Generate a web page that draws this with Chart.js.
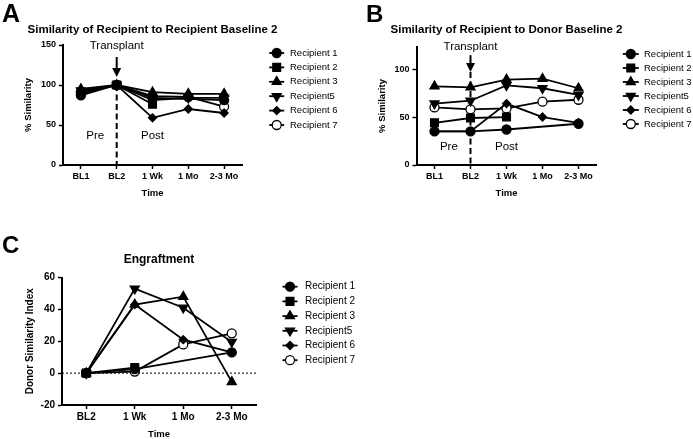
<!DOCTYPE html>
<html><head><meta charset="utf-8">
<script src="https://cdn.jsdelivr.net/npm/chart.js@4.4.0/dist/chart.umd.min.js"></script>
<style>
html,body{margin:0;padding:0;background:#fff;width:693px;height:439px;overflow:hidden}
canvas{position:absolute}
</style></head><body>
<canvas id="cA" width="346" height="205" style="left:0;top:0"></canvas>
<canvas id="cB" width="347" height="205" style="left:346px;top:0"></canvas>
<canvas id="cC" width="420" height="234" style="left:0;top:205px"></canvas>
<script>
// ---------- data ----------
const timeLabelsAB = ['BL1', 'BL2', '1 Wk', '1 Mo', '2-3 Mo'];
const timeLabelsC = ['BL2', '1 Wk', '1 Mo', '2-3 Mo'];
const seriesNames = ['Recipient 1', 'Recipient 2', 'Recipient 3', 'Recipient5', 'Recipient 6', 'Recipient 7'];

// Panel A: Similarity of Recipient to Recipient Baseline 2 (%)
const aRecipient1 = [87, 100, 84, null, 81];
const aRecipient2 = [91, 100, 76, null, null];
const aRecipient3 = [95, 100, 91, 89, 89];
const aRecipient5 = [93, 100, 81, 84, 84];
const aRecipient6 = [92, 100, 59, 70, 65];
const aRecipient7 = [89, 100, 86, 85, 73];

// Panel B: Similarity of Recipient to Donor Baseline 2 (%)
const bRecipient1 = [35, 35, 37, null, 43];
const bRecipient2 = [44, 49, 50, null, null];
const bRecipient3 = [82, 81, 89, 90, 80];
const bRecipient5 = [64, 67, 83, 80, 73];
const bRecipient6 = [35, 35, 64, 50, 44];
const bRecipient7 = [60, 58, 59, 66, 68];

// Panel C: Engraftment (Donor Similarity Index)
const cRecipient1 = [0, 2.5, null, 13];
const cRecipient2 = [0, 3.5, null, null];
const cRecipient3 = [0, 43, 48, -5.5];
const cRecipient5 = [0, 53, 41, 19.5];
const cRecipient6 = [0, 43, 21, 13];
const cRecipient7 = [0, 1, 18, 25];

const yTicksA = [0, 50, 100, 150];
const yTicksB = [0, 50, 100];
const yTicksC = [-20, 0, 20, 40, 60];

// ---------- styles ----------
const F = "'Liberation Sans', Arial, Helvetica, sans-serif";
const markerStyles = [
  {pointStyle: 'circle', radius: 4.5, rotation: 0, fill: '#000'},
  {pointStyle: 'rect', radius: 5.5, rotation: 0, fill: '#000'},
  {pointStyle: 'triangle', radius: 5.2, rotation: 0, fill: '#000'},
  {pointStyle: 'triangle', radius: 5.2, rotation: 180, fill: '#000'},
  {pointStyle: 'rectRot', radius: 4, rotation: 0, fill: '#000'},
  {pointStyle: 'circle', radius: 4.5, rotation: 0, fill: '#fff'}
];

function makeDatasets(arrays) {
  return arrays.map((d, i) => {
    const m = markerStyles[i];
    return {
      label: seriesNames[i], data: d,
      borderColor: '#000', borderWidth: 1.8, tension: 0, spanGaps: true, clip: false,
      pointStyle: m.pointStyle, pointRotation: m.rotation, pointRadius: m.radius,
      pointHoverRadius: m.radius, pointBackgroundColor: m.fill, pointBorderColor: '#000',
      pointBorderWidth: 1.3
    };
  });
}

function xScale(tickSize, titlePad, titleLH, height) {
  return {
    type: 'category', offset: true,
    grid: {display: true, drawOnChartArea: false, offset: false, tickLength: 4, tickWidth: 1.5, tickColor: '#000'},
    border: {display: true, color: '#000', width: 2},
    ticks: {color: '#000', font: {family: F, size: tickSize, weight: 'bold'}, padding: 2, maxRotation: 0, autoSkip: false},
    title: {display: true, text: 'Time', color: '#000', font: {family: F, size: 9.5, weight: 'bold', lineHeight: titleLH}, padding: {top: 0, bottom: titlePad}},
    afterFit(s) { s.height = height; }
  };
}
function yScale(min, max, allowed, title, titleSize, titlePad, tickSize, width) {
  return {
    type: 'linear', min: min, max: max,
    grid: {display: true, drawOnChartArea: false, tickLength: 4, tickWidth: 1.5, tickColor: '#000'},
    border: {display: true, color: '#000', width: 2},
    ticks: {color: '#000', font: {family: F, size: tickSize, weight: 'bold'}, padding: 3, stepSize: allowed[1] - allowed[0]},
    afterBuildTicks(s) { s.ticks = allowed.map(v => ({value: v})); },
    title: {display: true, text: title, color: '#000', font: {family: F, size: titleSize, weight: 'bold', lineHeight: 1.2}, padding: {top: titlePad, bottom: 0}},
    afterFit(s) { s.width = width; }
  };
}

const panelPlugin = {
  id: 'panel',
  beforeDatasetsDraw(chart, args, o) {
    const ctx = chart.ctx, ca = chart.chartArea, xs = chart.scales.x, ys = chart.scales.y;
    ctx.save();
    ctx.strokeStyle = '#000';
    if (o.marker) {
      const x = xs.getPixelForValue(o.marker.index);
      ctx.lineWidth = 2;
      ctx.setLineDash([6, 3.5]);
      ctx.beginPath(); ctx.moveTo(x, ys.getPixelForValue(o.marker.dashFrom)); ctx.lineTo(x, ca.bottom); ctx.stroke();
    }
    if (o.zeroLine) {
      const y = ys.getPixelForValue(0);
      ctx.lineWidth = 1;
      ctx.setLineDash([2, 2]);
      ctx.beginPath(); ctx.moveTo(ca.left, y); ctx.lineTo(ca.right, y); ctx.stroke();
    }
    ctx.restore();
  },
  afterDraw(chart, args, o) {
    const ctx = chart.ctx, ca = chart.chartArea, xs = chart.scales.x, ys = chart.scales.y;
    ctx.save();
    ctx.fillStyle = '#000'; ctx.strokeStyle = '#000';
    ctx.textBaseline = 'alphabetic';
    ctx.textAlign = 'left';
    ctx.font = `bold ${o.letterSize}px ${F}`;
    ctx.fillText(o.letter, o.letterX, o.letterY);
    ctx.textAlign = 'center';
    ctx.font = `bold ${o.titleSize}px ${F}`;
    ctx.fillText(o.title, (ca.left + ca.right) / 2, o.titleY);
    if (o.marker) {
      const m = o.marker;
      const x = xs.getPixelForValue(m.index);
      ctx.font = `${m.fontSize}px ${F}`;
      ctx.fillText(m.text, x, ys.getPixelForValue(m.textAt));
      const y0 = ys.getPixelForValue(m.arrowFrom), y1 = ys.getPixelForValue(m.arrowTo);
      ctx.lineWidth = 2;
      ctx.beginPath(); ctx.moveTo(x, y0); ctx.lineTo(x, y1 - 7); ctx.stroke();
      ctx.beginPath(); ctx.moveTo(x - 4.5, y1 - 9); ctx.lineTo(x + 4.5, y1 - 9); ctx.lineTo(x, y1); ctx.closePath(); ctx.fill();
      ctx.textBaseline = 'middle';
      ctx.fillText(m.pre, xs.getPixelForValue(m.preAt), ys.getPixelForValue(m.labelAt));
      ctx.fillText(m.post, xs.getPixelForValue(m.postAt), ys.getPixelForValue(m.labelAt));
    }
    const L = o.legend;
    chart.data.datasets.forEach((ds, i) => {
      const y = L.y + i * L.step;
      ctx.setLineDash([]);
      ctx.lineWidth = 1.8; ctx.strokeStyle = '#000';
      ctx.beginPath(); ctx.moveTo(L.x - L.half, y); ctx.lineTo(L.x + L.half, y); ctx.stroke();
      ctx.fillStyle = ds.pointBackgroundColor; ctx.lineWidth = ds.pointBorderWidth;
      if (Chart.helpers && Chart.helpers.drawPoint) {
        Chart.helpers.drawPoint(ctx, {pointStyle: ds.pointStyle, rotation: ds.pointRotation, radius: ds.pointRadius, borderWidth: ds.pointBorderWidth}, L.x, y);
      } else {
        ctx.beginPath(); ctx.arc(L.x, y, ds.pointRadius, 0, Math.PI * 2); ctx.fill(); ctx.stroke();
      }
      ctx.fillStyle = '#000';
      ctx.font = `${L.fontSize}px ${F}`;
      ctx.textAlign = 'left'; ctx.textBaseline = 'middle';
      ctx.fillText(ds.label, L.textX, y);
    });
    ctx.restore();
  }
};

function baseOptions(padding, scales, panel) {
  return {
    responsive: false, animation: false, devicePixelRatio: 1,
    layout: {padding: padding},
    plugins: {legend: {display: false}, tooltip: {enabled: false}, title: {display: false}, panel: panel},
    scales: scales
  };
}

new Chart(document.getElementById('cA'), {
  type: 'line',
  data: {labels: timeLabelsAB, datasets: makeDatasets([aRecipient1, aRecipient2, aRecipient3, aRecipient5, aRecipient6, aRecipient7])},
  options: baseOptions({left: 20, top: 45, right: 104, bottom: 0}, {
    x: xScale(9, 6, 1.2, 40),
    y: yScale(0, 150, yTicksA, '% Similarity', 9.5, 3, 9, 43)
  }, {
    letter: 'A', letterSize: 25, letterX: 2, letterY: 22,
    title: 'Similarity of Recipient to Recipient Baseline 2', titleSize: 11.5, titleY: 33,
    marker: {index: 1, text: 'Transplant', fontSize: 11.5, textAt: 144.5, arrowFrom: 135, arrowTo: 110, dashFrom: 100,
             pre: 'Pre', post: 'Post', preAt: 0.4, postAt: 2, labelAt: 36},
    legend: {x: 276.7, half: 7.5, textX: 290, y: 53, step: 14.4, fontSize: 9.5}
  }),
  plugins: [panelPlugin]
});

new Chart(document.getElementById('cB'), {
  type: 'line',
  data: {labels: timeLabelsAB, datasets: makeDatasets([bRecipient1, bRecipient2, bRecipient3, bRecipient5, bRecipient6, bRecipient7])},
  options: baseOptions({left: 28, top: 47, right: 96.5, bottom: 0}, {
    x: xScale(9, 6, 1.2, 40),
    y: yScale(0, 123, yTicksB, '% Similarity', 9.5, 3, 9, 42.5)
  }, {
    letter: 'B', letterSize: 24, letterX: 20, letterY: 22,
    title: 'Similarity of Recipient to Donor Baseline 2', titleSize: 11.5, titleY: 33,
    marker: {index: 1, text: 'Transplant', fontSize: 11.5, textAt: 119.8, arrowFrom: 114.5, arrowTo: 97, dashFrom: 97,
             pre: 'Pre', post: 'Post', preAt: 0.4, postAt: 2, labelAt: 19},
    legend: {x: 284.8, half: 8, textX: 298, y: 54, step: 14, fontSize: 9.5}
  }),
  plugins: [panelPlugin]
});

new Chart(document.getElementById('cC'), {
  type: 'line',
  data: {labels: timeLabelsC, datasets: makeDatasets([cRecipient1, cRecipient2, cRecipient3, cRecipient5, cRecipient6, cRecipient7])},
  options: baseOptions({left: 20, top: 72.5, right: 164, bottom: 0}, {
    x: xScale(10, 0, 1.0, 34),
    y: yScale(-20, 60, yTicksC, 'Donor Similarity Index', 10, 4, 10, 42)
  }, {
    letter: 'C', letterSize: 24, letterX: 2, letterY: 48,
    title: 'Engraftment', titleSize: 12, titleY: 58,
    zeroLine: true,
    legend: {x: 290, half: 7.5, textX: 305, y: 81.7, step: 14.7, fontSize: 10}
  }),
  plugins: [panelPlugin]
});
</script>
</body></html>
